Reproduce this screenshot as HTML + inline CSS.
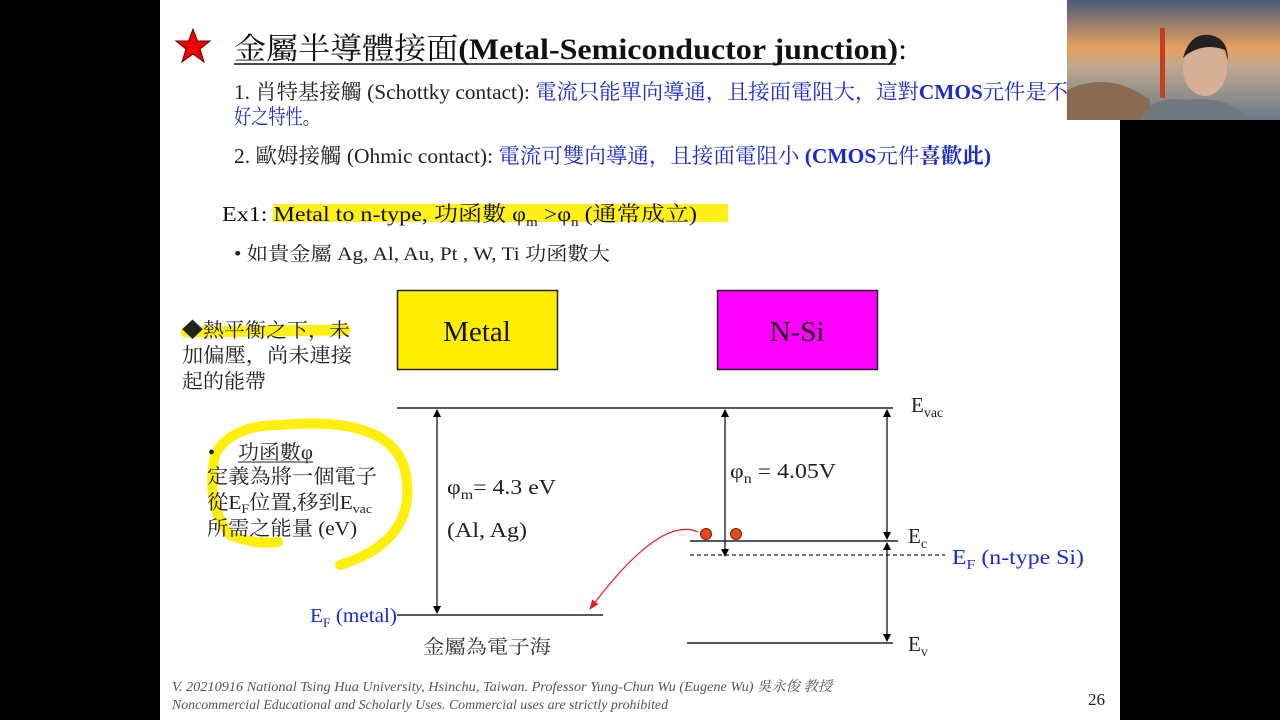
<!DOCTYPE html>
<html><head><meta charset="utf-8"><style>
html,body{margin:0;padding:0;background:#000;width:1280px;height:720px;overflow:hidden}
svg{position:absolute;left:0;top:0}
text{font-family:"Liberation Serif","Noto Serif CJK SC","Noto Sans CJK TC",serif}
</style></head><body>
<svg width="1280" height="720" viewBox="0 0 1280 720">
<defs>
<linearGradient id="sky" x1="0" y1="0" x2="0" y2="1">
<stop offset="0" stop-color="#4a5a78"/><stop offset="0.4" stop-color="#e8a060"/><stop offset="0.55" stop-color="#c0a890"/><stop offset="1" stop-color="#6a7a88"/></linearGradient>
<marker id="ah" markerWidth="8" markerHeight="8" refX="7" refY="4" orient="auto-start-reverse" markerUnits="userSpaceOnUse"><path d="M0,0 L8,4 L0,8 z" fill="#000"/></marker>
<marker id="rh" markerWidth="10" markerHeight="10" refX="9" refY="5" orient="auto" markerUnits="userSpaceOnUse"><path d="M0,1 L10,5 L0,9 z" fill="#e82020"/></marker>
</defs>
<rect x="160" y="0" width="960" height="720" fill="#fff"/>
<!-- webcam -->
<rect x="1067" y="0" width="213" height="120" fill="url(#sky)"/>
<path d="M1067,90 Q1110,70 1150,100 L1150,120 L1067,120z" fill="#8a6a50"/>
<rect x="1160" y="28" width="5" height="70" fill="#c04020"/>
<path d="M1140,120 Q1150,95 1185,100 Q1230,95 1250,120z" fill="#707880"/>
<ellipse cx="1205" cy="68" rx="22" ry="28" fill="#d8b098"/>
<path d="M1183,58 Q1190,32 1210,35 Q1228,38 1228,60 L1225,50 Q1205,42 1186,55z" fill="#222"/>
<!-- title -->
<polygon points="193,29 197.5,41 210,41 200,49 204,62 193,54 182,62 186,49 176,41 188.5,41" fill="#e00" stroke="#600" stroke-width="1"/>
<text x="234" y="59" font-size="30" fill="#111" textLength="673" lengthAdjust="spacingAndGlyphs">金屬半導體接面<tspan font-weight="bold">(Metal-Semiconductor junction)</tspan>:</text>
<line x1="234" y1="64" x2="896" y2="64" stroke="#111" stroke-width="1.5"/>
<text x="234" y="99" font-size="21" fill="#222" textLength="834" lengthAdjust="spacingAndGlyphs">1. 肖特基接觸 (Schottky contact): <tspan fill="#1a2ad0">電流只能單向導通，且接面電阻大，這對<tspan font-weight="bold">CMOS</tspan>元件是不</tspan></text>
<text x="234" y="124" font-size="21" fill="#1a2ad0" textLength="86" lengthAdjust="spacingAndGlyphs">好之特性<tspan fill="#222">。</tspan></text>
<text x="234" y="163" font-size="21" fill="#222" textLength="757" lengthAdjust="spacingAndGlyphs">2. 歐姆接觸 (Ohmic contact): <tspan fill="#1a2ad0">電流可雙向導通，且接面電阻小 <tspan font-weight="bold">(CMOS</tspan>元件<tspan font-weight="bold">喜歡此)</tspan></tspan></text>
<rect x="273" y="204" width="455" height="18" fill="#ffee00" opacity="0.9"/>
<text x="222" y="221" font-size="21" fill="#111" textLength="475" lengthAdjust="spacingAndGlyphs">Ex1: Metal to n-type, 功函數 φ<tspan font-size="13" dy="5">m</tspan><tspan dy="-5"> &gt;φ</tspan><tspan font-size="13" dy="5">n</tspan><tspan dy="-5"> (通常成立)</tspan></text>
<text x="234" y="260" font-size="19" fill="#222" textLength="376" lengthAdjust="spacingAndGlyphs">• 如貴金屬 Ag, Al, Au, Pt , W, Ti 功函數大</text>
<!-- left notes -->
<path d="M186,332 L345,330" stroke="#ffee00" stroke-width="11" stroke-linecap="round" opacity="0.9"/>
<text x="182" y="337" font-size="20" fill="#222" textLength="168" lengthAdjust="spacingAndGlyphs">◆熱平衡之下，未</text>
<text x="182" y="362" font-size="20" fill="#222" textLength="170" lengthAdjust="spacingAndGlyphs">加偏壓，尚未連接</text>
<text x="182" y="388" font-size="20" fill="#222" textLength="84" lengthAdjust="spacingAndGlyphs">起的能帶</text>
<!-- boxes -->
<rect x="397.5" y="290.5" width="160" height="79" fill="#ffee00" stroke="#222" stroke-width="1.5"/>
<text x="477" y="341" font-size="29" text-anchor="middle" fill="#111">Metal</text>
<rect x="717.5" y="290.5" width="160" height="79" fill="#ff00ff" stroke="#222" stroke-width="1.5"/>
<text x="797" y="341" font-size="29" text-anchor="middle" fill="#111">N-Si</text>
<!-- bands -->
<line x1="397" y1="408" x2="893" y2="408" stroke="#222" stroke-width="1.5"/>
<text x="911" y="412" font-size="21" fill="#222">E<tspan font-size="14" dy="5">vac</tspan></text>
<line x1="437" y1="410" x2="437" y2="613" stroke="#000" stroke-width="1.2" marker-start="url(#ah)" marker-end="url(#ah)"/>
<line x1="397" y1="615" x2="603" y2="615" stroke="#222" stroke-width="1.5"/>
<text x="310" y="622" font-size="20" fill="#1a2ad0" textLength="87" lengthAdjust="spacingAndGlyphs">E<tspan font-size="13" dy="5">F</tspan><tspan dy="-5"> (metal)</tspan></text>
<text x="447" y="494" font-size="21" fill="#222" textLength="109" lengthAdjust="spacingAndGlyphs">φ<tspan font-size="14" dy="5">m</tspan><tspan dy="-5">= 4.3 eV</tspan></text>
<text x="447" y="537" font-size="21" fill="#222" textLength="80" lengthAdjust="spacingAndGlyphs">(Al, Ag)</text>
<text x="423" y="653" font-size="19" fill="#333" textLength="128" lengthAdjust="spacingAndGlyphs">金屬為電子海</text>
<line x1="725" y1="410" x2="725" y2="556" stroke="#000" stroke-width="1.2" marker-start="url(#ah)" marker-end="url(#ah)"/>
<text x="730" y="478" font-size="21" fill="#222" textLength="106" lengthAdjust="spacingAndGlyphs">φ<tspan font-size="14" dy="5">n</tspan><tspan dy="-5"> = 4.05V</tspan></text>
<line x1="690" y1="541" x2="898" y2="541" stroke="#222" stroke-width="1.5"/>
<line x1="690" y1="555" x2="945" y2="555" stroke="#222" stroke-width="1.2" stroke-dasharray="4,3"/>
<line x1="687" y1="643" x2="893" y2="643" stroke="#222" stroke-width="1.5"/>
<line x1="887" y1="410" x2="887" y2="539" stroke="#000" stroke-width="1.2" marker-start="url(#ah)" marker-end="url(#ah)"/>
<line x1="887" y1="543" x2="887" y2="641" stroke="#000" stroke-width="1.2" marker-start="url(#ah)" marker-end="url(#ah)"/>
<text x="908" y="543" font-size="21" fill="#222">E<tspan font-size="14" dy="5">c</tspan></text>
<text x="952" y="564" font-size="21" fill="#1a2ad0" textLength="132" lengthAdjust="spacingAndGlyphs">E<tspan font-size="14" dy="5">F</tspan><tspan dy="-5"> (n-type Si)</tspan></text>
<text x="908" y="651" font-size="21" fill="#222">E<tspan font-size="14" dy="5">v</tspan></text>
<circle cx="706" cy="534" r="5.5" fill="#f04818" stroke="#602010" stroke-width="1"/>
<circle cx="736" cy="534" r="5.5" fill="#f04818" stroke="#602010" stroke-width="1"/>
<path d="M698,532 Q660,515 590,609" fill="none" stroke="#e82020" stroke-width="1.2" marker-end="url(#rh)"/>
<!-- work function note -->
<path d="M280,425 Q230,425 215,455 Q205,505 230,535 Q255,545 278,542 M280,425 Q390,415 405,470 Q420,540 340,565" fill="none" stroke="#ffee00" stroke-width="10" stroke-linecap="round" opacity="0.95"/>
<text x="208" y="459" font-size="20" fill="#222">•</text>
<text x="238" y="459" font-size="20" fill="#222" textLength="75" lengthAdjust="spacingAndGlyphs">功函數φ</text>
<line x1="238" y1="462" x2="313" y2="462" stroke="#222" stroke-width="1"/>
<text x="207" y="483" font-size="20" fill="#222" textLength="170" lengthAdjust="spacingAndGlyphs">定義為將一個電子</text>
<text x="207" y="509" font-size="20" fill="#222" textLength="165" lengthAdjust="spacingAndGlyphs">從E<tspan font-size="13" dy="4">F</tspan><tspan dy="-4">位置,移到E</tspan><tspan font-size="13" dy="4">vac</tspan></text>
<text x="207" y="535" font-size="20" fill="#222" textLength="150" lengthAdjust="spacingAndGlyphs">所需之能量 (eV)</text>
<!-- footer -->
<text x="172" y="691" font-size="14" font-style="italic" fill="#555" textLength="660" lengthAdjust="spacingAndGlyphs">V. 20210916 National Tsing Hua University, Hsinchu, Taiwan. Professor Yung-Chun Wu (Eugene Wu) 吳永俊 教授</text>
<text x="172" y="709" font-size="14" font-style="italic" fill="#555" textLength="496" lengthAdjust="spacingAndGlyphs">Noncommercial Educational and Scholarly Uses. Commercial uses are strictly prohibited</text>
<text x="1088" y="705" font-size="17" fill="#222">26</text>
</svg>
</body></html>
